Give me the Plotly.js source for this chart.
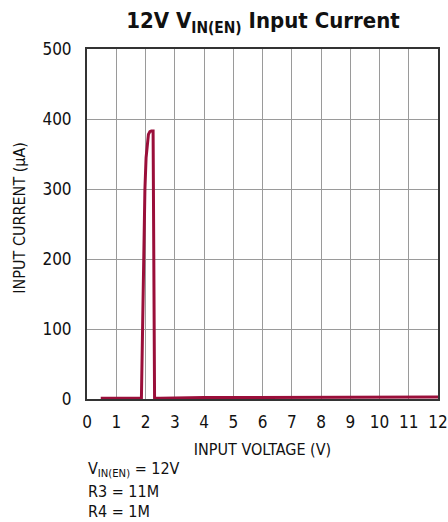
<!DOCTYPE html>
<html>
<head>
<meta charset="utf-8">
<script src="https://cdn.plot.ly/plotly-3.0.1.min.js"></script>
<style>html,body{margin:0;padding:0;background:#fff;}#chart{width:448px;height:522px;}</style>
</head>
<body>
<div id="chart"></div>
<script>
// Input voltage (V)
const voltage = [0.47, 1.0, 1.5, 1.86, 1.90, 1.94, 1.98, 2.02, 2.06, 2.10, 2.15, 2.20, 2.26, 2.29, 2.31, 2.5, 3, 4, 5, 6, 7, 8, 9, 10, 11, 12];
// Input current (µA)
const current = [1, 1, 1, 1, 100, 220, 300, 345, 368, 378, 382, 383, 383, 150, 1, 1, 1.5, 2, 2, 2, 2, 2, 2.5, 2.5, 3, 3];
const xTicks = [0,1,2,3,4,5,6,7,8,9,10,11,12];
const yTicks = [0,100,200,300,400,500];

const FONT = '"DejaVu Sans Condensed", Roboto, sans-serif';

const trace = {
  x: voltage, y: current, mode: 'lines', type: 'scatter',
  line: {color: '#9a0f3a', width: 3},
  hoverinfo: 'skip'
};

const layout = {
  width: 448, height: 522,
  margin: {l: 87, r: 10, t: 49, b: 123},
  paper_bgcolor: '#fff', plot_bgcolor: '#fff',
  showlegend: false,
  font: {family: FONT, color: '#111', size: 16},
  title: {
    text: '<b>12V V<sub>IN(EN)</sub> Input Current</b>',
    font: {family: FONT, size: 22, color: '#111'},
    x: 0.587, xanchor: 'center', y: 0.975, yanchor: 'top'
  },
  xaxis: {
    range: [0, 12], tickvals: xTicks, ticktext: xTicks.map(String),
    showgrid: true, gridcolor: '#9a9a9a', gridwidth: 1,
    showline: true, linecolor: '#333', linewidth: 2, mirror: true,
    ticks: '', zeroline: false, ticklabelstandoff: 7,
    tickfont: {family: FONT, size: 17, color: '#111'},
    title: {text: 'INPUT VOLTAGE (V)', font: {family: FONT, size: 16, color: '#111'}, standoff: 12}
  },
  yaxis: {
    range: [0, 500], tickvals: yTicks, ticktext: yTicks.map(String),
    showgrid: true, gridcolor: '#9a9a9a', gridwidth: 1,
    showline: true, linecolor: '#333', linewidth: 2, mirror: true,
    ticks: '', zeroline: false, ticklabelstandoff: 10,
    tickfont: {family: FONT, size: 17, color: '#111'}
  },
  annotations: [
    {xref: 'paper', yref: 'paper', x: -0.191, y: 0.518, xanchor: 'center', yanchor: 'middle', textangle: -90, showarrow: false,
     text: 'INPUT CURRENT (µA)', font: {family: FONT, size: 16, color: '#111'}},
    {xref: 'paper', yref: 'paper', x: -0.004, y: -0.201, xanchor: 'left', yanchor: 'middle', align: 'left', showarrow: false,
     text: 'V<sub>IN(EN)</sub> = 12V', font: {family: FONT, size: 16, color: '#111'}},
    {xref: 'paper', yref: 'paper', x: -0.004, y: -0.265, xanchor: 'left', yanchor: 'middle', align: 'left', showarrow: false,
     text: 'R3 = 11M', font: {family: FONT, size: 16, color: '#111'}},
    {xref: 'paper', yref: 'paper', x: -0.004, y: -0.322, xanchor: 'left', yanchor: 'middle', align: 'left', showarrow: false,
     text: 'R4 = 1M', font: {family: FONT, size: 16, color: '#111'}}
  ]
};

Plotly.newPlot('chart', [trace], layout, {displayModeBar: false, staticPlot: true});
</script>
</body>
</html>
